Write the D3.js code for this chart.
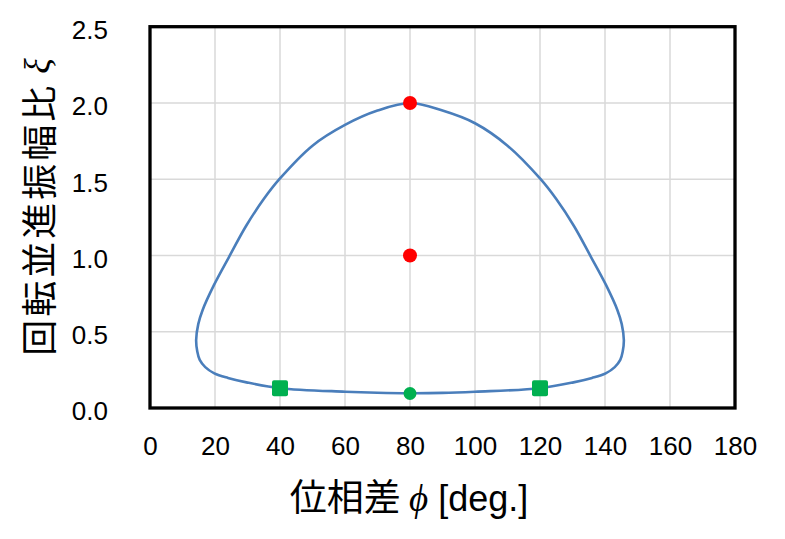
<!DOCTYPE html>
<html>
<head>
<meta charset="utf-8">
<script src="https://cdn.jsdelivr.net/npm/d3@7"></script>
<style>
  html, body { margin: 0; padding: 0; background: #fff; }
  svg { display: block; }
</style>
</head>
<body>
<svg id="chart" width="785" height="539"></svg>
<script>
// ---- data ----
const xTicks = [0, 20, 40, 60, 80, 100, 120, 140, 160, 180];
const yTicks = [0, 0.5, 1.0, 1.5, 2.0, 2.5];

// closed loop, clockwise from top
const curvePhi = [80, 90, 100, 110, 120, 125, 130.4, 135.7, 140.3, 143.8, 145.15, 145.8, 145.45, 144.7, 143.0, 140.2, 136.0, 130.3, 120, 100, 90, 80, 70, 60, 40, 29.7, 24.0, 19.8, 17.0, 15.3, 14.55, 14.2, 14.85, 16.2, 19.7, 24.3, 29.6, 35, 40, 50, 60, 70];
const curveXi  = [2.0, 1.95, 1.867, 1.72, 1.505, 1.37, 1.195, 0.99, 0.807, 0.643, 0.55, 0.446, 0.37, 0.315, 0.268, 0.227, 0.197, 0.168, 0.13, 0.107, 0.099, 0.097, 0.1, 0.107, 0.13, 0.168, 0.197, 0.227, 0.268, 0.315, 0.37, 0.446, 0.55, 0.643, 0.807, 0.99, 1.195, 1.37, 1.505, 1.72, 1.856, 1.95];

const redPhi = [80, 80];
const redXi = [2.0, 1.0];
const greenCirclePhi = [80];
const greenCircleXi = [0.095];
const greenSquarePhi = [40, 120];
const greenSquareXi = [0.13, 0.13];

// ---- layout ----
const W = 785, H = 539;
const pLeft = 150, pRight = 735, pTop = 26.7, pBottom = 408;

const svg = d3.select("#chart");
const x = d3.scaleLinear().domain([0, 180]).range([pLeft, pRight]);
const y = d3.scaleLinear().domain([0, 2.5]).range([pBottom, pTop]);

// grid
const grid = svg.append("g");
grid.selectAll("line.vx").data(xTicks.filter(d => d > 0 && d < 180)).join("line")
  .attr("class", "vx")
  .attr("x1", d => x(d)).attr("x2", d => x(d))
  .attr("y1", pTop).attr("y2", pBottom)
  .attr("stroke", "#d9d9d9").attr("stroke-width", 1.5);
grid.selectAll("line.hy").data(yTicks.filter(d => d > 0 && d < 2.5)).join("line")
  .attr("class", "hy")
  .attr("x1", pLeft).attr("x2", pRight)
  .attr("y1", d => y(d)).attr("y2", d => y(d))
  .attr("stroke", "#d9d9d9").attr("stroke-width", 1.5);

// axes labels
const xAxis = d3.axisBottom(x).tickValues(xTicks).tickSize(0).tickPadding(29).tickFormat(d3.format("d"));
const gx = svg.append("g").attr("transform", `translate(0,${pBottom})`).call(xAxis);
gx.select(".domain").remove();
gx.attr("font-size", null).attr("font-family", null);
gx.selectAll("text").style("font-family", "'Liberation Sans', Arial, sans-serif")
  .style("font-size", "26px").attr("fill", "#000");

const yAxis = d3.axisLeft(y).tickValues(yTicks).tickSize(0).tickPadding(42).tickFormat(d3.format(".1f"));
const gy = svg.append("g").attr("transform", `translate(${pLeft},0)`).call(yAxis);
gy.select(".domain").remove();
gy.attr("font-size", null).attr("font-family", null);
gy.selectAll("text").style("font-family", "'Liberation Sans', Arial, sans-serif")
  .style("font-size", "26px").attr("fill", "#000").attr("dy", "0.46em");

// curve
const pts = curvePhi.map((p, i) => [p, curveXi[i]]);
const line = d3.line().x(d => x(d[0])).y(d => y(d[1])).curve(d3.curveCatmullRomClosed.alpha(0.5));
svg.append("path").attr("d", line(pts))
  .attr("fill", "none").attr("stroke", "#4a7ebb").attr("stroke-width", 2.6);

// markers
svg.selectAll("circle.red").data(redPhi.map((p, i) => [p, redXi[i]])).join("circle")
  .attr("class", "red")
  .attr("cx", d => x(d[0])).attr("cy", d => y(d[1])).attr("r", 7).attr("fill", "#ff0000");
svg.selectAll("circle.green").data(greenCirclePhi.map((p, i) => [p, greenCircleXi[i]])).join("circle")
  .attr("class", "green")
  .attr("cx", d => x(d[0])).attr("cy", d => y(d[1])).attr("r", 6.5).attr("fill", "#00b050");
const sq = 16;
svg.selectAll("rect.gsq").data(greenSquarePhi.map((p, i) => [p, greenSquareXi[i]])).join("rect")
  .attr("class", "gsq")
  .attr("x", d => x(d[0]) - sq / 2).attr("y", d => y(d[1]) - sq / 2)
  .attr("width", sq).attr("height", sq).attr("rx", 2).attr("fill", "#00b050");

// frame
svg.append("rect").attr("x", pLeft).attr("y", pTop)
  .attr("width", pRight - pLeft).attr("height", pBottom - pTop)
  .attr("fill", "none").attr("stroke", "#000").attr("stroke-width", 3.3);

// axis titles
const xt = svg.append("text").attr("x", 409).attr("y", 511).attr("text-anchor", "middle")
  .attr("font-size", 37).attr("fill", "#000")
  .attr("font-family", "'Noto Sans CJK JP', sans-serif");
xt.append("tspan").text("位相差 ");
xt.append("tspan").attr("font-family", "'Liberation Serif', serif").attr("font-style", "italic").text("ϕ");
xt.append("tspan").attr("font-family", "'Liberation Sans', sans-serif").attr("font-size", 36).text(" [deg.]");

const yt = svg.append("text").attr("transform", "translate(37,207) rotate(-90)")
  .attr("text-anchor", "middle").attr("dominant-baseline", "central")
  .attr("font-size", 36).attr("fill", "#000")
  .attr("font-family", "'Noto Sans CJK JP', sans-serif");
yt.append("tspan").attr("letter-spacing", 3).text("回転並進振幅比");
yt.append("tspan").attr("font-family", "'Liberation Serif', serif").attr("font-style", "italic").text(" ξ");
</script>
</body>
</html>
